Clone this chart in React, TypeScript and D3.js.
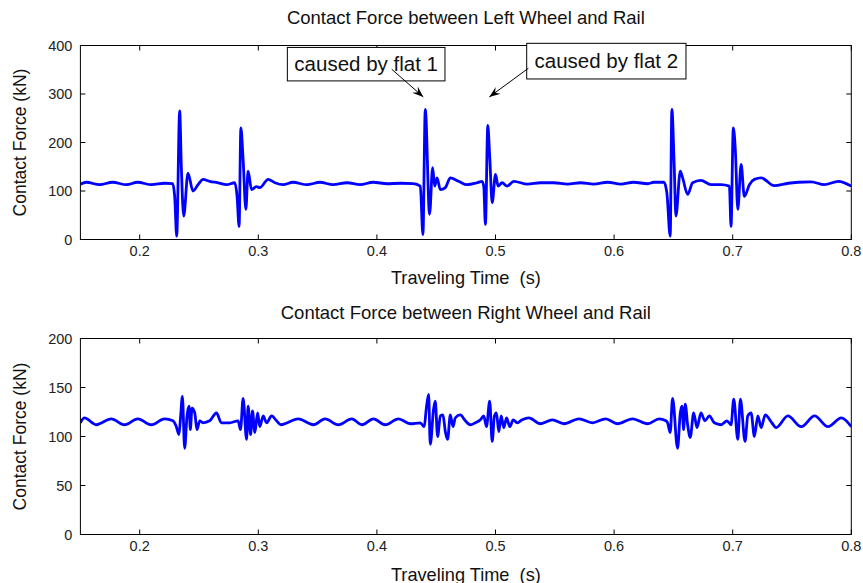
import React from 'react';
import * as d3 from 'd3';

// ---------- data ----------
const xTickValues = [0.2, 0.3, 0.4, 0.5, 0.6, 0.7, 0.8];
const leftYTicks = [0, 100, 200, 300, 400];
const rightYTicks = [0, 50, 100, 150, 200];

const leftTime = [0.15, 0.1551, 0.1661, 0.1771, 0.1889, 0.1982, 0.21, 0.221, 0.2278, 0.2295, 0.2312, 0.2337, 0.2351, 0.2371, 0.2407, 0.2449, 0.2492, 0.2534, 0.259, 0.2661, 0.2732, 0.2802, 0.2821, 0.2838, 0.2853, 0.2872, 0.2895, 0.2914, 0.2943, 0.2985, 0.3013, 0.3083, 0.314, 0.321, 0.3292, 0.341, 0.352, 0.363, 0.3749, 0.3858, 0.3968, 0.4087, 0.4197, 0.4306, 0.4366, 0.4388, 0.4408, 0.4444, 0.447, 0.4487, 0.4507, 0.4535, 0.4577, 0.4619, 0.4689, 0.476, 0.4845, 0.4887, 0.4901, 0.4915, 0.4935, 0.4951, 0.4972, 0.5, 0.5022, 0.5056, 0.5098, 0.5154, 0.527, 0.538, 0.549, 0.5608, 0.5718, 0.5828, 0.5946, 0.6056, 0.6166, 0.6284, 0.6335, 0.642, 0.6445, 0.6473, 0.6487, 0.6507, 0.6521, 0.6558, 0.6578, 0.662, 0.6662, 0.6732, 0.6817, 0.6902, 0.6972, 0.6986, 0.7005, 0.7022, 0.7043, 0.7071, 0.7098, 0.7141, 0.7183, 0.724, 0.7349, 0.7468, 0.7552, 0.7662, 0.7772, 0.7891, 0.8];
const leftForce = [114, 118, 113, 118, 113, 118, 113, 116, 115, 89, 7, 265, 151, 48, 137, 100, 113, 124, 120, 117, 113, 117, 89, 27, 230, 165, 62, 141, 103, 109, 107, 124, 117, 113, 118, 113, 118, 113, 117, 113, 118, 115, 116, 115, 110, 10, 268, 52, 148, 110, 127, 103, 107, 127, 120, 113, 117, 120, 110, 31, 235, 172, 76, 134, 110, 117, 110, 120, 114, 117, 117, 114, 117, 114, 118, 114, 118, 115, 118, 118, 96, 7, 268, 151, 48, 141, 127, 93, 117, 122, 113, 113, 110, 27, 230, 186, 62, 155, 89, 113, 124, 127, 111, 116, 118, 119, 113, 120, 110];

const rightTime = [0.15, 0.1534, 0.1633, 0.176, 0.1872, 0.1984, 0.2098, 0.221, 0.228, 0.2309, 0.2331, 0.2343, 0.236, 0.2379, 0.2399, 0.2416, 0.2427, 0.2441, 0.2464, 0.2483, 0.2506, 0.2534, 0.259, 0.2647, 0.2689, 0.276, 0.283, 0.285, 0.2872, 0.2901, 0.2914, 0.2935, 0.2951, 0.2971, 0.2994, 0.3013, 0.3041, 0.307, 0.3112, 0.3154, 0.319, 0.3337, 0.3464, 0.3563, 0.3675, 0.3788, 0.3873, 0.3971, 0.407, 0.4182, 0.4281, 0.4366, 0.4399, 0.4416, 0.4436, 0.445, 0.4478, 0.4492, 0.4512, 0.4535, 0.4557, 0.4577, 0.4596, 0.4619, 0.4642, 0.4661, 0.4704, 0.4746, 0.4788, 0.483, 0.4873, 0.4901, 0.4924, 0.4951, 0.4972, 0.4991, 0.5008, 0.5028, 0.5048, 0.507, 0.5093, 0.5121, 0.5149, 0.5183, 0.5225, 0.5281, 0.538, 0.5479, 0.5577, 0.5704, 0.5817, 0.5929, 0.6028, 0.6155, 0.6282, 0.638, 0.6437, 0.6451, 0.6473, 0.6493, 0.6535, 0.6558, 0.6572, 0.6586, 0.66, 0.662, 0.6642, 0.6671, 0.6699, 0.6732, 0.6766, 0.6803, 0.6845, 0.6902, 0.6952, 0.6986, 0.7009, 0.7043, 0.7065, 0.7104, 0.7127, 0.7155, 0.7183, 0.7212, 0.724, 0.7274, 0.733, 0.7366, 0.7465, 0.7578, 0.769, 0.7804, 0.7916, 0.8];
const rightForce = [114, 119, 112, 118, 112, 118, 112, 118, 116, 110, 102, 117, 141, 88, 121, 131, 107, 129, 124, 107, 116, 114, 116, 124, 114, 114, 116, 107, 139, 97, 131, 102, 126, 104, 124, 110, 121, 114, 121, 116, 112, 118, 112, 118, 112, 118, 112, 118, 112, 118, 113, 114, 110, 128, 143, 92, 128, 136, 100, 121, 122, 105, 97, 122, 110, 119, 122, 116, 112, 114, 117, 121, 110, 136, 95, 121, 124, 105, 121, 109, 119, 110, 117, 114, 117, 119, 113, 117, 113, 118, 114, 118, 113, 118, 113, 118, 116, 114, 104, 139, 88, 124, 131, 107, 133, 112, 99, 124, 109, 124, 116, 121, 114, 112, 116, 112, 138, 97, 138, 95, 121, 124, 100, 121, 109, 122, 114, 109, 121, 110, 121, 110, 119, 110];

const annotationLabels = ['caused by flat 1', 'caused by flat 2'];
const boxTimeStart = [0.3245, 0.5263];
const boxTimeEnd = [0.4574, 0.6606];
const boxForceTop = [396, 404.5];
const boxForceBottom = [327, 331];
const arrowTailTime = [0.4125, 0.5277];
const arrowTailForce = [351, 353];
const arrowTipTime = [0.4391, 0.4948];
const arrowTipForce = [294, 294];

// ---------- layout ----------
const W = 863;
const H = 583;
const FONT = '"Liberation Sans", Arial, Helvetica, sans-serif';
const X0 = 80.4;
const X1 = 851.3;

const x = d3.scaleLinear().domain([0.15, 0.8]).range([X0, X1]);

type PanelProps = {
  id: string;
  top: number;
  bottom: number;
  yMax: number;
  yTicks: number[];
  time: number[];
  force: number[];
  title: string;
  titleY: number;
  xLabelY: number;
  children?: (y: d3.ScaleLinear<number, number>) => React.ReactNode;
};

function Panel({ id, top, bottom, yMax, yTicks, time, force, title, titleY, xLabelY, children }: PanelProps) {
  const y = d3.scaleLinear().domain([0, yMax]).range([bottom, top]);
  const pts: [number, number][] = time.map((t, i) => [t, force[i]]);
  const line = d3
    .line<[number, number]>()
    .x((d) => x(d[0]))
    .y((d) => y(d[1]))
    .curve(d3.curveMonotoneX);
  const tl = 5;
  const midX = (X0 + X1) / 2;
  const midY = (top + bottom) / 2;
  return (
    <g>
      <defs>
        <clipPath id={id}>
          <rect x={X0} y={top} width={X1 - X0} height={bottom - top} />
        </clipPath>
      </defs>
      <path d={line(pts) || ''} fill="none" stroke="#0000ff" strokeWidth={2.8} strokeLinejoin="round" clipPath={`url(#${id})`} />
      <rect x={X0} y={top} width={X1 - X0} height={bottom - top} fill="none" stroke="#000" strokeWidth={1} />
      {xTickValues.map((t) => (
        <g key={'xt' + t}>
          <line x1={x(t)} x2={x(t)} y1={bottom} y2={bottom - tl} stroke="#000" />
          <line x1={x(t)} x2={x(t)} y1={top} y2={top + tl} stroke="#000" />
          <text x={x(t)} y={bottom + 16} textAnchor="middle" fontSize={14.5} fontFamily={FONT} fill="#222">
            {t.toFixed(1)}
          </text>
        </g>
      ))}
      {yTicks.map((v) => (
        <g key={'yt' + v}>
          <line x1={X0} x2={X0 + tl} y1={y(v)} y2={y(v)} stroke="#000" />
          <line x1={X1} x2={X1 - tl} y1={y(v)} y2={y(v)} stroke="#000" />
          <text x={X0 - 8} y={y(v) + 5} textAnchor="end" fontSize={14.5} fontFamily={FONT} fill="#222">
            {v}
          </text>
        </g>
      ))}
      <text x={midX} y={titleY} textAnchor="middle" fontSize={18.5} fontFamily={FONT} fill="#111">
        {title}
      </text>
      <text x={midX} y={xLabelY} textAnchor="middle" fontSize={18.2} fontFamily={FONT} fill="#111" style={{ whiteSpace: 'pre' }}>
        {'Traveling Time  (s)'}
      </text>
      <text
        transform={`translate(26,${midY}) rotate(-90)`}
        textAnchor="middle"
        fontSize={17.5}
        fontFamily={FONT}
        fill="#111"
      >
        Contact Force (kN)
      </text>
      {children ? children(y) : null}
    </g>
  );
}

function arrowHead(x1: number, y1: number, x2: number, y2: number) {
  const ang = Math.atan2(y2 - y1, x2 - x1);
  const len = 11;
  const half = 4.2;
  const back = 7;
  const bx = x2 - len * Math.cos(ang);
  const by = y2 - len * Math.sin(ang);
  const nx = -Math.sin(ang);
  const ny = Math.cos(ang);
  const cx = x2 - back * Math.cos(ang);
  const cy = y2 - back * Math.sin(ang);
  return `M${x2},${y2} L${bx + nx * half},${by + ny * half} L${cx},${cy} L${bx - nx * half},${by - ny * half} Z`;
}

export default function App() {
  return (
    <svg width={W} height={H} style={{ position: 'absolute', left: 0, top: 0, background: '#fff' }}>
      <rect width={W} height={H} fill="#fff" />
      <Panel
        id="clipTop"
        top={45.5}
        bottom={239.5}
        yMax={400}
        yTicks={leftYTicks}
        time={leftTime}
        force={leftForce}
        title="Contact Force between Left Wheel and Rail"
        titleY={24}
        xLabelY={284}
      >
        {(y) =>
          annotationLabels.map((lab, i) => {
            const bx0 = x(boxTimeStart[i]);
            const bx1 = x(boxTimeEnd[i]);
            const by0 = y(boxForceTop[i]);
            const by1 = y(boxForceBottom[i]);
            const tx = x(arrowTailTime[i]);
            const ty = y(arrowTailForce[i]);
            const hx = x(arrowTipTime[i]);
            const hy = y(arrowTipForce[i]);
            return (
              <g key={lab}>
                <rect x={bx0} y={by0} width={bx1 - bx0} height={by1 - by0} fill="#fff" stroke="#000" strokeWidth={1} />
                <text x={(bx0 + bx1) / 2} y={(by0 + by1) / 2 + 7} textAnchor="middle" fontSize={20.5} fontFamily={FONT} fill="#111">
                  {lab}
                </text>
                <line x1={tx} y1={ty} x2={hx} y2={hy} stroke="#000" strokeWidth={1} />
                <path d={arrowHead(tx, ty, hx, hy)} fill="#000" />
              </g>
            );
          })
        }
      </Panel>
      <Panel
        id="clipBottom"
        top={338.5}
        bottom={534.5}
        yMax={200}
        yTicks={rightYTicks}
        time={rightTime}
        force={rightForce}
        title="Contact Force between Right Wheel and Rail"
        titleY={319}
        xLabelY={581}
      />
    </svg>
  );
}
